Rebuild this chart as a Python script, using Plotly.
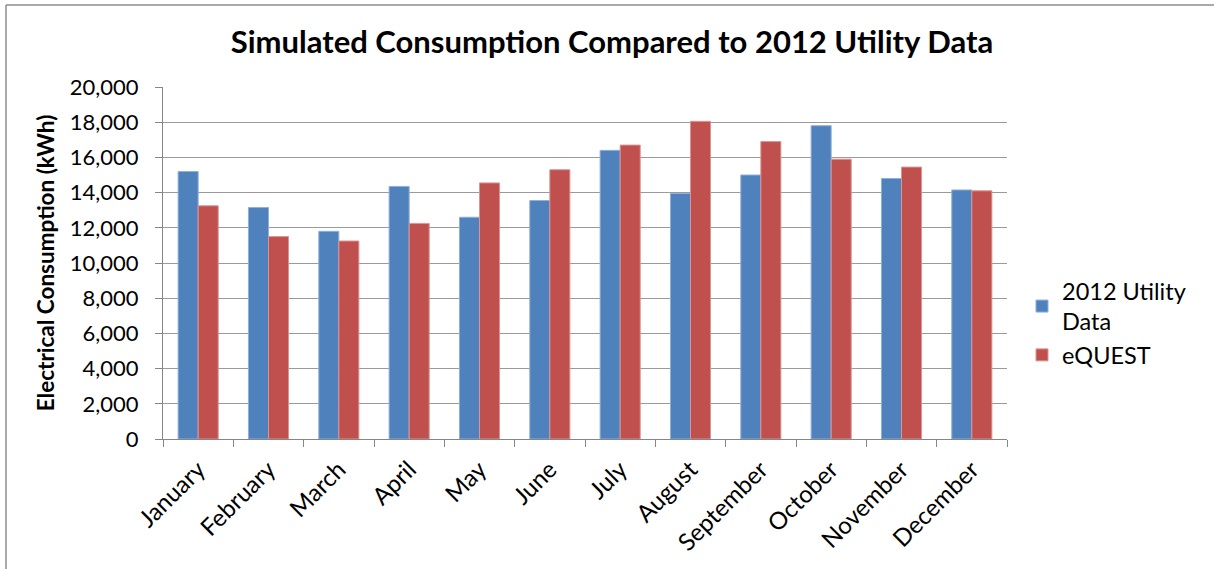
import plotly.graph_objects as go

months = ["January", "February", "March", "April", "May", "June", "July",
          "August", "September", "October", "November", "December"]
utility_2012 = [15200, 13150, 11800, 14350, 12600, 13550, 16400, 13950, 15000, 17800, 14800, 14150]
equest = [13250, 11500, 11250, 12250, 14550, 15300, 16700, 18050, 16900, 15900, 15450, 14100]
y_ticks = [0, 2000, 4000, 6000, 8000, 10000, 12000, 14000, 16000, 18000, 20000]

W, H = 1214, 569
L, R, T, B = 163, 207, 87, 130
pw, ph = W - L - R, H - T - B

def px_x(x):
    return (x - L) / pw

def px_y(y):
    return (H - B - y) / ph

base_font = "Lato"
grid = "#9a9a9a"

fig = go.Figure()
fig.add_trace(go.Bar(
    x=months, y=utility_2012, name="2012 Utility<br>Data",
    marker=dict(color="#4F81BD", line=dict(color="#8FB0DA", width=1)),
))
fig.add_trace(go.Bar(
    x=months, y=equest, name="eQUEST",
    marker=dict(color="#C0504D", line=dict(color="#DA9593", width=1)),
))

fig.update_layout(
    width=W, height=H,
    margin=dict(l=L, r=R, t=T, b=B),
    paper_bgcolor="white", plot_bgcolor="white",
    barmode="group", bargap=0.43, bargroupgap=0,
    font=dict(family=base_font, color="black"),
    title=dict(
        text="<b>Simulated Consumption Compared to 2012 Utility Data</b>",
        font=dict(family=base_font, size=31, color="black"),
        x=612 / W, xanchor="center", xref="container",
        y=1 - 42 / H, yanchor="middle", yref="container",
    ),
    legend=dict(
        x=px_x(1022), xanchor="left", y=px_y(323), yanchor="middle",
        font=dict(family=base_font, size=23.5),
        itemwidth=30, tracegroupgap=4,
    ),
    xaxis=dict(
        type="category", tickangle=-45, tickson="boundaries",
        ticks="outside", ticklen=7, tickcolor="#868686",
        showline=True, linecolor="#868686", linewidth=1,
        tickfont=dict(family=base_font, size=24),
        ticklabelstandoff=6,
        showgrid=False,
    ),
    yaxis=dict(
        range=[0, 20000], tickvals=y_ticks, tickformat=",d",
        ticks="outside", ticklen=7, tickcolor="#868686",
        showline=True, linecolor="#868686", linewidth=1,
        showgrid=True, gridcolor=grid, gridwidth=1,
        tickfont=dict(family=base_font, size=22),
        ticklabelstandoff=12,
        title=dict(text="<b>Electrical Consumption (kWh)</b>",
                   font=dict(family=base_font, size=22.5), standoff=8),
        zeroline=False,
    ),
    shapes=[
        dict(type="line", xref="paper", yref="paper",
             x0=px_x(6), x1=px_x(W), y0=px_y(5), y1=px_y(5),
             line=dict(color="#8c8c8c", width=1.5)),
        dict(type="line", xref="paper", yref="paper",
             x0=px_x(6), x1=px_x(6), y0=px_y(5), y1=px_y(H),
             line=dict(color="#8c8c8c", width=1.5)),
    ],
)

fig.write_html("out.html")
